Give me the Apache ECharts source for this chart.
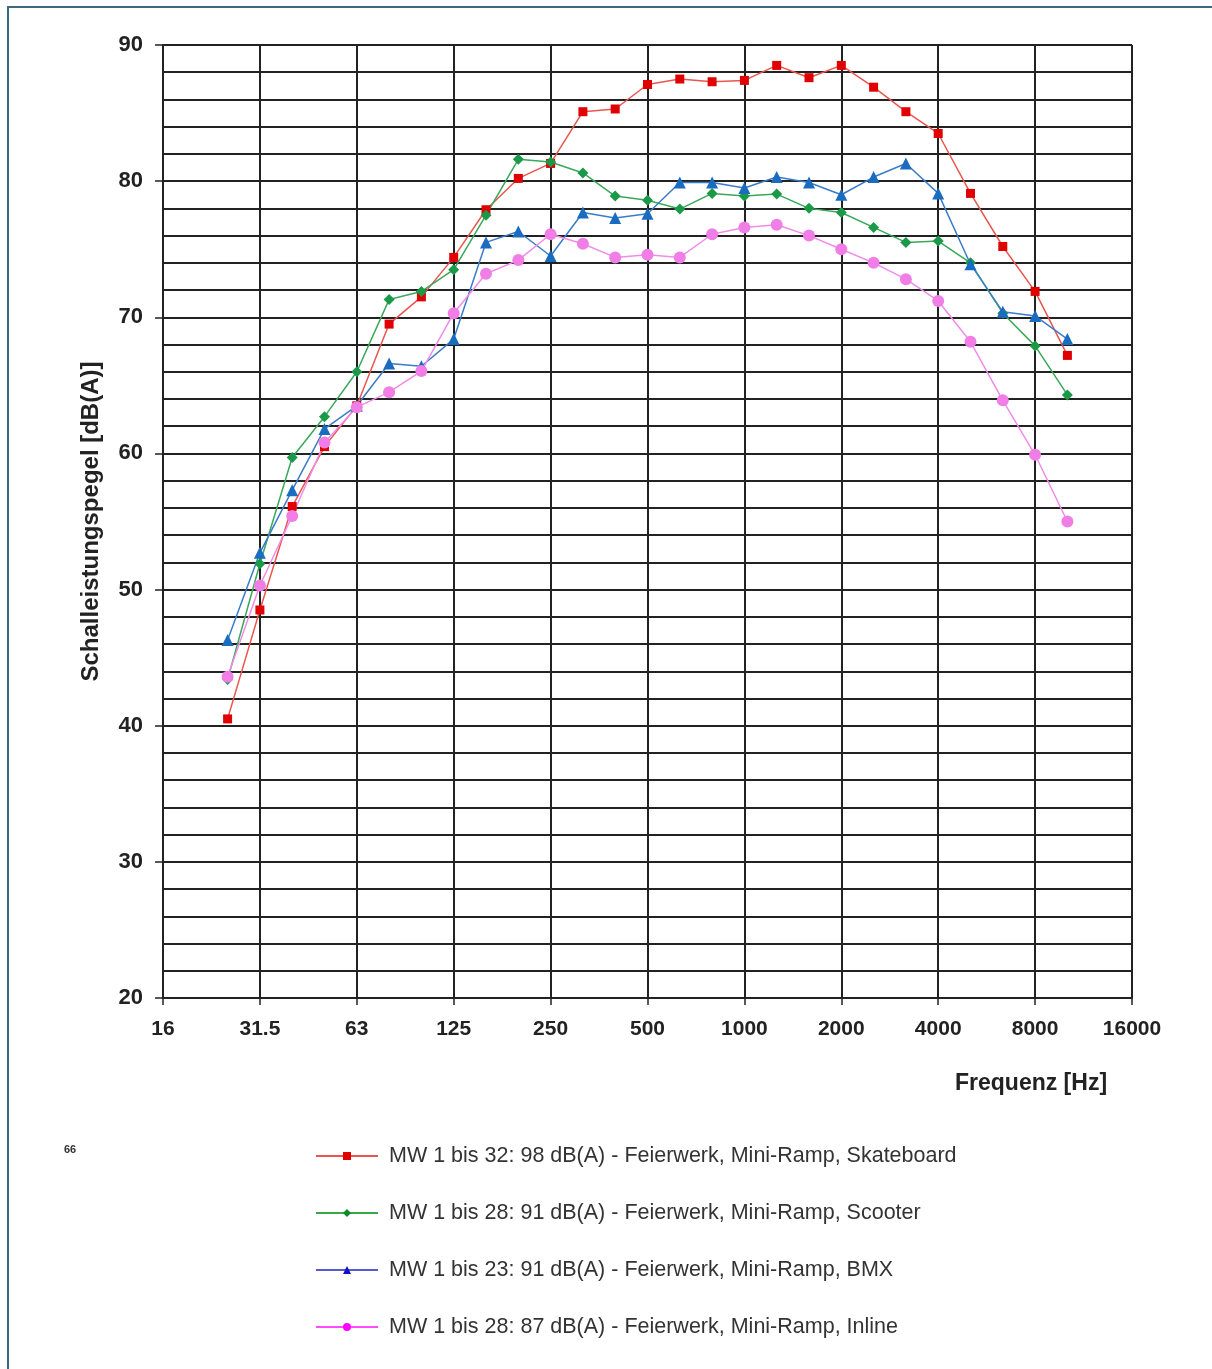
<!DOCTYPE html>
<html>
<head>
<meta charset="utf-8">
<script src="https://cdn.jsdelivr.net/npm/echarts@6/dist/echarts.min.js"></script>
<style>
  html, body { margin: 0; padding: 0; background: #fff; }
  #chart { width: 1212px; height: 1369px; }
</style>
</head>
<body>
<div id="chart"></div>
<script>
  // Terzband-Mittenfrequenzen 25 Hz .. 10 kHz (Index 2..28, Index 0 = 16 Hz)
  var bands = ['25', '31.5', '40', '50', '63', '80', '100', '125', '160', '200', '250', '315', '400', '500',
    '630', '800', '1000', '1250', '1600', '2000', '2500', '3150', '4000', '5000', '6300', '8000', '10000'];
  var octaveLabels = ['16', '31.5', '63', '125', '250', '500', '1000', '2000', '4000', '8000', '16000'];

  var skateboard = [40.5, 48.5, 56.1, 60.5, 63.5, 69.5, 71.5, 74.4, 77.9, 80.2, 81.3, 85.1, 85.3, 87.1,
    87.5, 87.3, 87.4, 88.5, 87.6, 88.5, 86.9, 85.1, 83.5, 79.1, 75.2, 71.9, 67.2];
  var scooter = [43.4, 51.9, 59.7, 62.7, 66.0, 71.3, 71.9, 73.5, 77.5, 81.6, 81.4, 80.6, 78.9, 78.6,
    77.95, 79.1, 78.9, 79.05, 78.0, 77.7, 76.6, 75.5, 75.6, 74.0, 70.3, 67.9, 64.3];
  var bmx = [46.3, 52.7, 57.3, 61.8, 63.5, 66.6, 66.4, 68.4, 75.5, 76.3, 74.5, 77.7, 77.3, 77.6,
    79.9, 79.9, 79.5, 80.3, 79.9, 79.0, 80.3, 81.3, 79.1, 73.9, 70.4, 70.1, 68.4];
  var inline = [43.6, 50.3, 55.4, 60.8, 63.4, 64.5, 66.05, 70.3, 73.2, 74.2, 76.1, 75.4, 74.4, 74.6,
    74.4, 76.1, 76.6, 76.8, 76.0, 75.0, 74.0, 72.8, 71.2, 68.2, 63.9, 59.9, 55.0];

  var names = [
    'MW 1 bis 32: 98 dB(A) - Feierwerk, Mini-Ramp, Skateboard',
    'MW 1 bis 28: 91 dB(A) - Feierwerk, Mini-Ramp, Scooter',
    'MW 1 bis 23: 91 dB(A) - Feierwerk, Mini-Ramp, BMX',
    'MW 1 bis 28: 87 dB(A) - Feierwerk, Mini-Ramp, Inline'
  ];

  // Werte auf Terzband-Index abbilden
  function toPoints(arr) {
    return arr.map(function (v, i) { return [i + 2, v]; });
  }

  var chart = echarts.init(document.getElementById('chart'));
  var font = 'Liberation Sans, Arial, sans-serif';

  function mkSeries(name, data, color, symbol, size, lineColor) {
    return {
      name: name,
      type: 'line',
      data: toPoints(data),
      symbol: symbol,
      symbolSize: size,
      itemStyle: { color: color },
      lineStyle: { color: lineColor, width: 1.5 },
      animation: false
    };
  }

  chart.setOption({
    backgroundColor: '#fff',
    grid: { left: 163, right: 80, top: 45, bottom: 371 },
    legend: {
      orient: 'vertical',
      left: 310,
      top: 1140,
      itemWidth: 62,
      itemHeight: 10,
      itemGap: 35,
      textStyle: { fontFamily: font, fontSize: 21.5, color: '#333', padding: [0, 0, 0, 6] },
      data: [
        { name: names[0], itemStyle: { color: '#e00000' }, lineStyle: { color: '#e8564f', width: 2 } },
        { name: names[1], itemStyle: { color: '#0b8a2c' }, lineStyle: { color: '#3aa648', width: 2 } },
        { name: names[2], itemStyle: { color: '#1010c8' }, lineStyle: { color: '#5a5ad0', width: 2 } },
        { name: names[3], itemStyle: { color: '#ff00ff' }, lineStyle: { color: '#ff4cff', width: 2 } }
      ]
    },
    xAxis: {
      type: 'value',
      min: 0,
      max: 30,
      interval: 3,
      axisLine: { onZero: false, lineStyle: { color: '#222', width: 2 } },
      axisTick: { show: true, length: 7, lineStyle: { color: '#222', width: 1.5 } },
      axisLabel: {
        margin: 21,
        fontFamily: font,
        fontSize: 21,
        fontWeight: 'bold',
        color: '#222',
        formatter: function (v) { return octaveLabels[Math.round(v / 3)]; }
      },
      splitLine: { show: true, lineStyle: { color: '#222', width: 2 } }
    },
    yAxis: {
      type: 'value',
      min: 20,
      max: 90,
      interval: 10,
      name: 'Schalleistungspegel [dB(A)]',
      nameLocation: 'middle',
      nameGap: 60,
      nameTextStyle: { fontFamily: font, fontSize: 24, fontWeight: 'bold', color: '#222' },
      axisLine: { show: true, lineStyle: { color: '#222', width: 2 } },
      axisTick: { show: true, length: 8, lineStyle: { color: '#222', width: 1.5 } },
      axisLabel: { margin: 20, fontFamily: font, fontSize: 22, fontWeight: 'bold', color: '#222' },
      splitLine: { show: true, lineStyle: { color: '#222', width: 2 } },
      minorTick: { show: false, splitNumber: 5 },
      minorSplitLine: { show: true, lineStyle: { color: '#222', width: 2 } }
    },
    graphic: [
      {
        type: 'rect',
        shape: { x: 8, y: 7, width: 1230, height: 1400 },
        style: { fill: 'none', stroke: '#3d6a80', lineWidth: 2 },
        silent: true
      },
      {
        type: 'text',
        left: 955,
        top: 1072,
        style: { text: 'Frequenz [Hz]', font: 'bold 23px ' + font, fill: '#222' }
      },
      {
        type: 'text',
        left: 64,
        top: 1144,
        style: { text: '66', font: 'bold 11px ' + font, fill: '#333' }
      }
    ],
    series: [
      mkSeries(names[0], skateboard, '#e00000', 'rect', 9, '#e8564f'),
      mkSeries(names[1], scooter, '#1a9a48', 'diamond', 11, '#3aa85a'),
      mkSeries(names[2], bmx, '#1a6cc0', 'triangle', 12, '#3a7cc8'),
      mkSeries(names[3], inline, '#f07ee6', 'circle', 12, '#f08ce8')
    ]
  });
</script>
</body>
</html>
